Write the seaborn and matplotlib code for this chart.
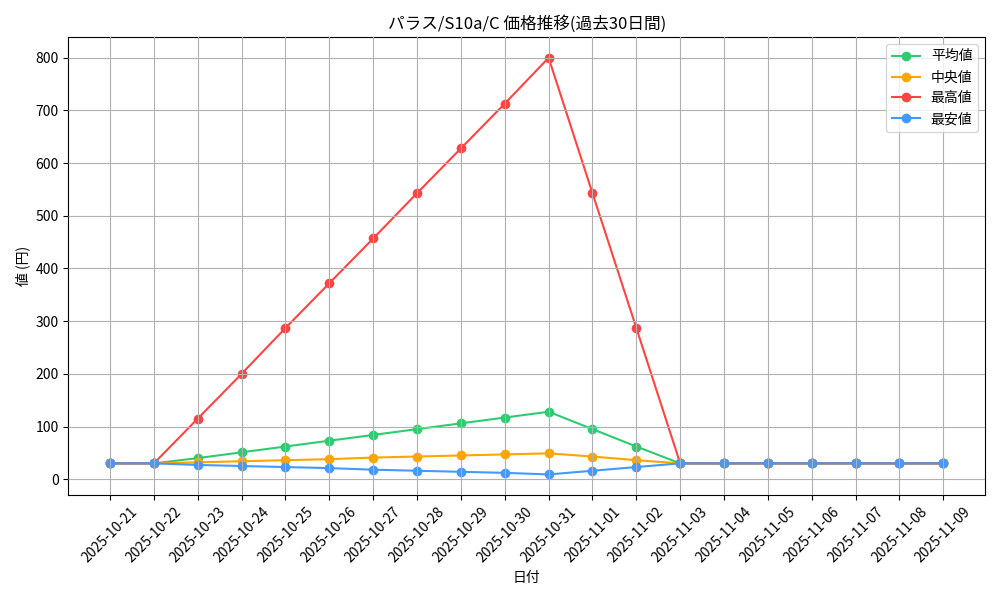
import pandas as pd
import matplotlib.pyplot as plt
import seaborn as sns

dates = pd.date_range('2025-10-21', '2025-11-09').strftime('%Y-%m-%d').tolist()

avg_price = [30, 30, 40, 51, 62, 73, 84, 95, 106, 117, 128, 95, 62, 30, 30, 30, 30, 30, 30, 30]
median_price = [30, 30, 32, 34, 36, 38, 41, 43, 45, 47, 49, 43, 36, 30, 30, 30, 30, 30, 30, 30]
max_price = [30, 30, 115, 200, 287, 372, 457, 543, 628, 713, 800, 543, 287, 30, 30, 30, 30, 30, 30, 30]
min_price = [30, 30, 27, 25, 23, 21, 18, 16, 14, 12, 9, 16, 23, 30, 30, 30, 30, 30, 30, 30]

series_names = ['平均値', '中央値', '最高値', '最安値']
series_colors = ['#2ecc71', '#ffa500', '#ff4444', '#4499ff']

df = pd.DataFrame({'日付': dates,
                   '平均値': avg_price,
                   '中央値': median_price,
                   '最高値': max_price,
                   '最安値': min_price})

plt.rcParams['font.family'] = ['Noto Sans CJK JP', 'DejaVu Sans']

fig, ax = plt.subplots(figsize=(10, 6), dpi=100)

# 各系列を順番に描く
for name, color in zip(series_names, series_colors):
    sns.lineplot(data=df, x='日付', y=name, ax=ax, color=color,
                 marker='o', markersize=7, markeredgewidth=0,
                 linewidth=1.5, label=name)

ax.set_title('パラス/S10a/C 価格推移(過去30日間)', fontsize=12)
ax.set_xlabel('日付')
ax.set_ylabel('値 (円)')
ax.grid(True, color='#b0b0b0', linewidth=0.8)
ax.set_axisbelow(False)
plt.xticks(rotation=45)
ax.legend(loc='upper right')
plt.tight_layout()
plt.savefig('out.png')
